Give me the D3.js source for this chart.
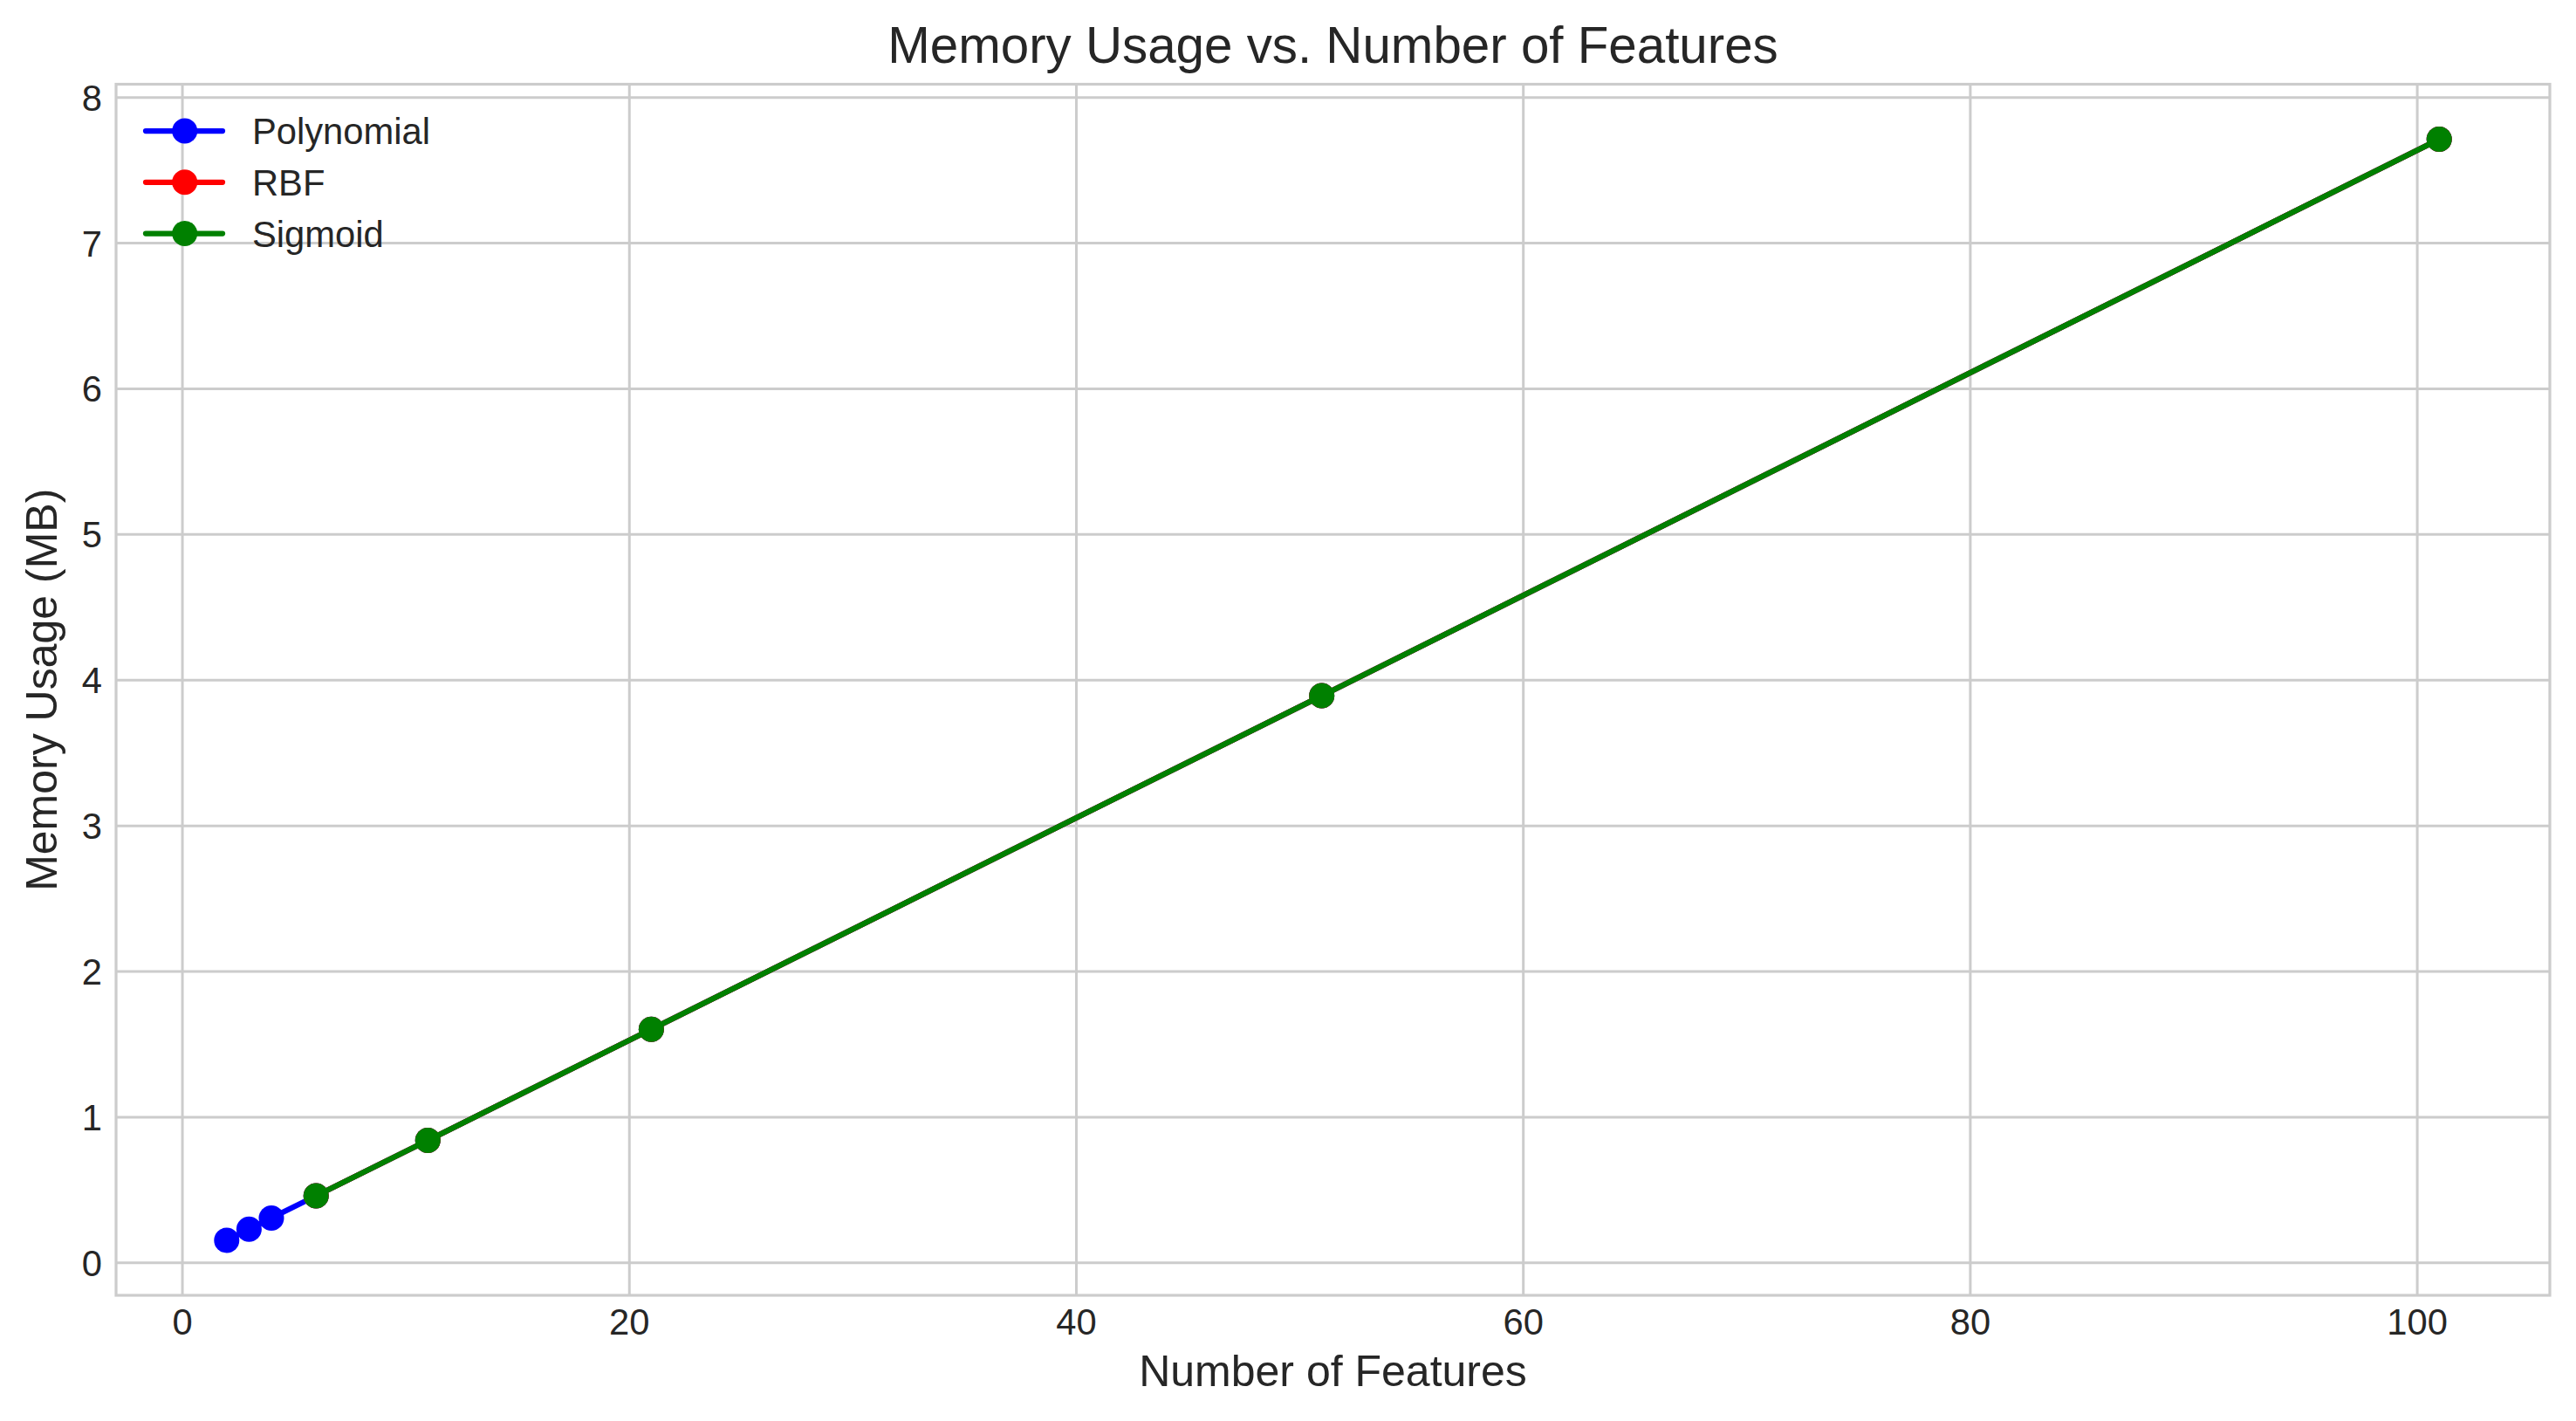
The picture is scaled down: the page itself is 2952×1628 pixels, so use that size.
<!DOCTYPE html>
<html>
<head>
<meta charset="utf-8">
<script src="https://cdn.jsdelivr.net/npm/d3@7"></script>
<style>
  body { margin: 0; background: #fff; }
  text { font-family: "Liberation Sans", Arial, sans-serif; fill: #262626; }
</style>
</head>
<body>
<div id="my_chart"></div>
<script>
// data
const seriesNames = ["Polynomial", "RBF", "Sigmoid"]
const seriesColors = ["blue", "red", "green"]

const polyFeatures = [2, 3, 4, 6, 11, 21, 51, 101]
const polyMemory = [0.152, 0.228, 0.305, 0.457, 0.838, 1.60, 3.89, 7.71]

const rbfFeatures = [6, 11, 21, 51, 101]
const rbfMemory = [0.457, 0.838, 1.60, 3.89, 7.71]

const sigmoidFeatures = [6, 11, 21, 51, 101]
const sigmoidMemory = [0.457, 0.838, 1.60, 3.89, 7.71]

const xTicks = [0, 20, 40, 60, 80, 100]
const yTicks = [0, 1, 2, 3, 4, 5, 6, 7, 8]

// set the dimensions and margins of the graph
const margin = {top: 96.5, right: 30, bottom: 144, left: 133},
    width = 2952 - margin.left - margin.right,
    height = 1628 - margin.top - margin.bottom;

const svg = d3.select("#my_chart")
  .append("svg")
    .attr("width", 2952)
    .attr("height", 1628)
  .append("g")
    .attr("transform", `translate(${margin.left}, ${margin.top})`);

const series = [
  {name: seriesNames[0], color: seriesColors[0], xs: polyFeatures, ys: polyMemory},
  {name: seriesNames[1], color: seriesColors[1], xs: rbfFeatures, ys: rbfMemory},
  {name: seriesNames[2], color: seriesColors[2], xs: sigmoidFeatures, ys: sigmoidMemory}
]

// matplotlib style 5% margins around the data
const allX = polyFeatures.concat(rbfFeatures, sigmoidFeatures)
const allY = polyMemory.concat(rbfMemory, sigmoidMemory)
const xMin = d3.min(allX), xMax = d3.max(allX)
const yMin = d3.min(allY), yMax = d3.max(allY)
const xPad = (xMax - xMin) * 0.05, yPad = (yMax - yMin) * 0.05

const x = d3.scaleLinear()
  .domain([xMin - xPad, xMax + xPad])
  .range([0, width]);
const y = d3.scaleLinear()
  .domain([yMin - yPad, yMax + yPad])
  .range([height, 0]);

// grid lines
svg.append("g")
  .attr("class", "x-grid")
  .call(d3.axisBottom(x).tickValues(xTicks).tickSize(height).tickFormat(""))
  .call(g => g.select(".domain").remove())
  .call(g => g.selectAll("line").attr("stroke", "#cccccc").attr("stroke-width", 3));

svg.append("g")
  .attr("class", "y-grid")
  .call(d3.axisLeft(y).tickValues(yTicks).tickSize(-width).tickFormat(""))
  .call(g => g.select(".domain").remove())
  .call(g => g.selectAll("line").attr("stroke", "#cccccc").attr("stroke-width", 3));

// frame
svg.append("rect")
  .attr("width", width)
  .attr("height", height)
  .attr("fill", "none")
  .attr("stroke", "#cccccc")
  .attr("stroke-width", 3.2);

// tick labels
svg.append("g")
  .attr("transform", `translate(0, ${height})`)
  .call(d3.axisBottom(x).tickValues(xTicks).tickSize(0).tickPadding(0))
  .call(g => g.select(".domain").remove())
  .call(g => g.selectAll("text")
    .attr("y", 45).attr("dy", null)
    .style("font-size", "41.7px")
    .style("font-family", '"Liberation Sans", Arial, sans-serif')
    .attr("fill", "#262626"));

svg.append("g")
  .call(d3.axisLeft(y).tickValues(yTicks).tickSize(0).tickPadding(16))
  .call(g => g.select(".domain").remove())
  .call(g => g.selectAll("text")
    .attr("dy", "0.36em")
    .style("font-size", "41.7px")
    .style("font-family", '"Liberation Sans", Arial, sans-serif')
    .attr("fill", "#262626"));

// lines and markers, one series after the other
const line = d3.line()
  .x(d => x(d[0]))
  .y(d => y(d[1]));

series.forEach(function(s) {
  const pts = s.xs.map((v, i) => [v, s.ys[i]])
  const g = svg.append("g")
  g.append("path")
    .datum(pts)
    .attr("d", line)
    .attr("fill", "none")
    .attr("stroke", s.color)
    .attr("stroke-width", 6.25)
    .attr("stroke-linejoin", "round")
    .attr("stroke-linecap", "round");
  g.selectAll("circle")
    .data(pts)
    .enter()
    .append("circle")
      .attr("cx", d => x(d[0]))
      .attr("cy", d => y(d[1]))
      .attr("r", 14.5)
      .attr("fill", s.color);
})

// legend
const legend = svg.append("g")
  .attr("transform", `translate(${167 - margin.left}, ${150 - margin.top})`)
series.forEach(function(s, i) {
  const row = legend.append("g").attr("transform", `translate(0, ${i * 58.8})`)
  row.append("line")
    .attr("x1", 0).attr("x2", 88)
    .attr("stroke", s.color)
    .attr("stroke-width", 6.25)
    .attr("stroke-linecap", "round");
  row.append("circle")
    .attr("cx", 44.7)
    .attr("r", 14.5)
    .attr("fill", s.color);
  row.append("text")
    .attr("x", 122)
    .attr("dy", "0.36em")
    .style("font-size", "41.7px")
    .text(s.name);
})

// title
svg.append("text")
  .attr("text-anchor", "middle")
  .attr("x", width / 2)
  .attr("y", 71.7 - margin.top)
  .style("font-size", "58.3px")
  .text("Memory Usage vs. Number of Features");

// x axis label
svg.append("text")
  .attr("text-anchor", "middle")
  .attr("x", width / 2)
  .attr("y", 1588 - margin.top)
  .style("font-size", "50px")
  .text("Number of Features");

// y axis label
svg.append("text")
  .attr("text-anchor", "middle")
  .attr("transform", "rotate(-90)")
  .attr("x", -height / 2)
  .attr("y", 65 - margin.left)
  .style("font-size", "50px")
  .text("Memory Usage (MB)");
</script>
</body>
</html>
